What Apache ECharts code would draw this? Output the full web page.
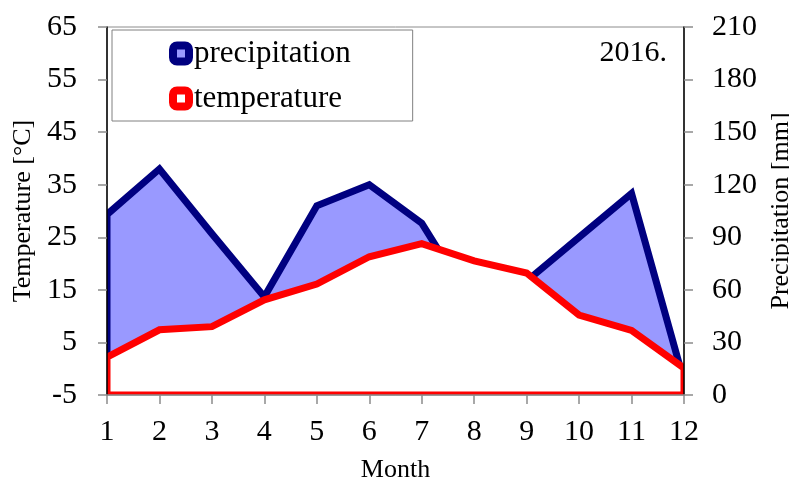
<!DOCTYPE html>
<html>
<head>
<meta charset="utf-8">
<script src="https://cdn.jsdelivr.net/npm/echarts@6/dist/echarts.min.js"></script>
<style>
  html, body { margin: 0; padding: 0; background: #fff; }
  #chart { width: 789px; height: 481px; }
</style>
</head>
<body>
<div id="chart"></div>
<script>
// Monthly climate data
const months = [1, 2, 3, 4, 5, 6, 7, 8, 9, 10, 11, 12];
const temperature = [2.2, 7.4, 8.0, 13.1, 16.1, 21.3, 23.8, 20.5, 18.2, 10.2, 7.3, 0.1];
const precipitation = [103, 129, 92, 56, 108, 120, 98, 50, 65, 90, 115, 8];

// Axis ticks
const tempTicks = [-5, 5, 15, 25, 35, 45, 55, 65];
const precipTicks = [0, 30, 60, 90, 120, 150, 180, 210];
const yearLabel = '2016.';

const FONT = '"Liberation Serif", "Times New Roman", serif';
const NAVY = '#000080';
const LIGHT_BLUE = '#9999ff';
const RED = '#ff0000';
const GREY = '#8c8c8c';

// Closed polygon series: the monthly curve closed down to the axis minimum
function polygonSeries(name, values, yAxisIndex, base, fill, stroke, z) {
  return {
    type: 'custom',
    name: name,
    yAxisIndex: yAxisIndex,
    z: z,
    data: months.map((m, i) => [m, values[i]]),
    itemStyle: { color: fill, borderColor: stroke },
    renderItem: function (params, api) {
      if (params.dataIndex !== 0) return null;
      const pts = months.map((m, i) => api.coord([m, values[i]]));
      pts.push(api.coord([months[months.length - 1], base]));
      pts.push(api.coord([months[0], base]));
      const cs = params.coordSys;
      return {
        type: 'polygon',
        shape: { points: pts },
        style: { fill: fill, stroke: stroke, lineWidth: 7, lineJoin: 'miter' },
        clipPath: { type: 'rect', shape: { x: cs.x, y: cs.y, width: cs.width, height: cs.height } }
      };
    }
  };
}

const chart = echarts.init(document.getElementById('chart'), null, { renderer: 'canvas' });

chart.setOption({
  animation: false,
  backgroundColor: '#fff',
  textStyle: { fontFamily: FONT },
  title: {
    text: yearLabel,
    right: 122,
    top: 38,
    padding: 0,
    textStyle: { fontFamily: FONT, fontSize: 30, fontWeight: 'normal', color: '#000' }
  },
  legend: {
    left: 112,
    top: 30,
    orient: 'vertical',
    padding: [8, 62, 7, 57],
    itemGap: 14,
    itemWidth: 16,
    itemHeight: 16,
    borderColor: '#808080',
    borderWidth: 1,
    borderRadius: 0,
    backgroundColor: '#fff',
    textStyle: { fontFamily: FONT, fontSize: 31, color: '#000' },
    data: [
      { name: 'precipitation', icon: 'roundRect',
        itemStyle: { color: LIGHT_BLUE, borderColor: NAVY, borderWidth: 8 } },
      { name: 'temperature', icon: 'roundRect',
        itemStyle: { color: '#fff', borderColor: RED, borderWidth: 8 } }
    ]
  },
  grid: {
    left: 107, right: 105, top: 27, bottom: 86,
    outerBoundsMode: 'none',
    containLabel: false,
    show: true, borderColor: GREY, borderWidth: 1, backgroundColor: 'transparent'
  },
  xAxis: {
    type: 'value',
    min: months[0],
    max: months[months.length - 1],
    interval: 1,
    z: 10,
    name: 'Month',
    nameLocation: 'middle',
    nameGap: 62,
    nameTextStyle: { fontFamily: FONT, fontSize: 26, color: '#000' },
    axisLine: { onZero: false, lineStyle: { color: GREY, width: 1.5 } },
    axisTick: { length: 9, lineStyle: { color: GREY, width: 1.5 } },
    axisLabel: { fontFamily: FONT, fontSize: 30, color: '#000', margin: 22 },
    splitLine: { show: false }
  },
  yAxis: [
    {
      type: 'value',
      position: 'left',
      min: tempTicks[0],
      max: tempTicks[tempTicks.length - 1],
      z: 10,
      name: 'Temperature [°C]',
      nameLocation: 'middle',
      nameRotate: 90,
      nameGap: 66,
      nameTextStyle: { fontFamily: FONT, fontSize: 26, color: '#000' },
      axisLine: { show: true, onZero: false, lineStyle: { color: '#000', width: 1.5 } },
      axisTick: { show: true, length: 9, customValues: tempTicks, lineStyle: { color: GREY, width: 1.5 } },
      axisLabel: { fontFamily: FONT, fontSize: 30, color: '#000', margin: 30, customValues: tempTicks },
      splitLine: { show: false }
    },
    {
      type: 'value',
      position: 'right',
      min: precipTicks[0],
      max: precipTicks[precipTicks.length - 1],
      interval: precipTicks[1] - precipTicks[0],
      z: 10,
      name: 'Precipitation [mm]',
      nameLocation: 'middle',
      nameRotate: 90,
      nameGap: 69,
      nameTextStyle: { fontFamily: FONT, fontSize: 26, color: '#000' },
      axisLine: { show: true, onZero: false, lineStyle: { color: '#000', width: 1.5 } },
      axisTick: { show: true, length: 9, lineStyle: { color: GREY, width: 1.5 } },
      axisLabel: { fontFamily: FONT, fontSize: 30, color: '#000', margin: 28 },
      splitLine: { show: false }
    }
  ],
  series: [
    polygonSeries('precipitation', precipitation, 1, precipTicks[0], LIGHT_BLUE, NAVY, 2),
    polygonSeries('temperature', temperature, 0, tempTicks[0], '#fff', RED, 3)
  ]
});
</script>
</body>
</html>
